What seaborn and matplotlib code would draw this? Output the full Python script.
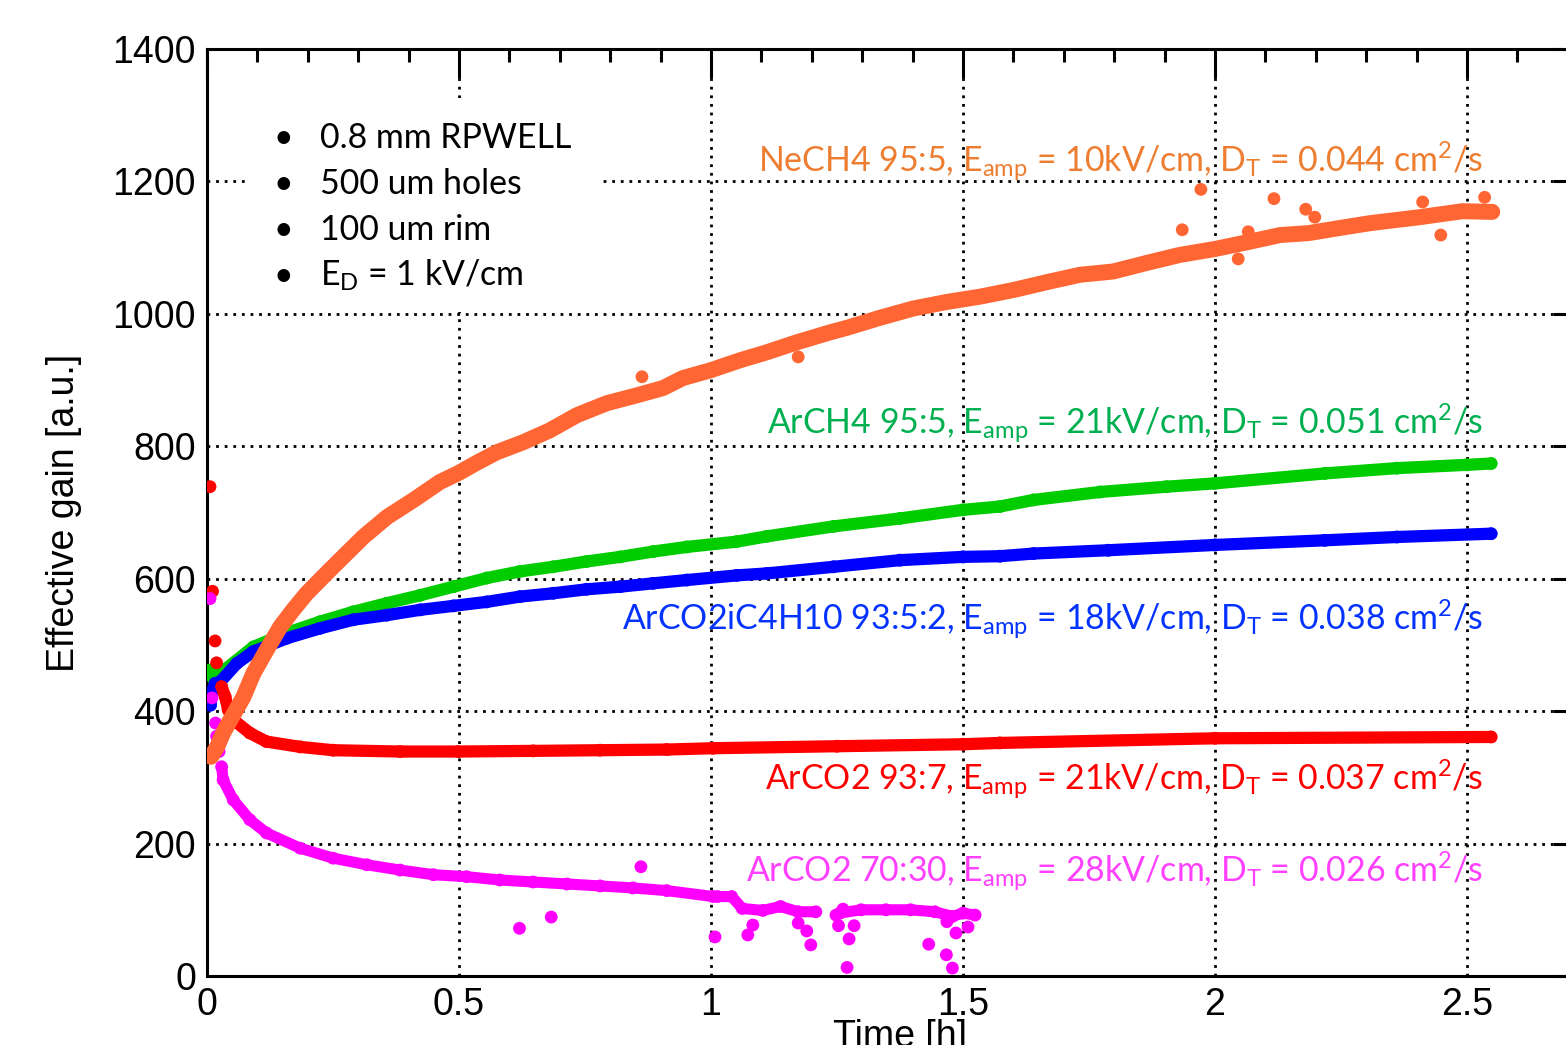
import matplotlib
matplotlib.use("Agg")
import matplotlib.pyplot as plt
import seaborn as sns
import pandas as pd
from matplotlib.ticker import MultipleLocator
from matplotlib.patches import Rectangle

# ---------------- data ----------------
# NeCH4 95:5 (orange)
ne_t = [0.008, 0.02, 0.032, 0.045, 0.06, 0.072, 0.092, 0.118, 0.145, 0.171, 0.198,
        0.237, 0.27, 0.31, 0.357, 0.41, 0.462, 0.5, 0.535, 0.575, 0.627, 0.68, 0.734,
        0.793, 0.853, 0.905, 0.944, 1.0, 1.058, 1.111, 1.17, 1.236, 1.27, 1.335, 1.401,
        1.468, 1.534, 1.6, 1.667, 1.732, 1.798, 1.865, 1.93, 2.0, 2.063, 2.129, 2.186,
        2.25, 2.308, 2.406, 2.491, 2.55]
ne_g = [331, 346, 367, 385, 405, 421, 457, 492, 527, 553, 578,
        608, 633, 663, 693, 719, 746, 760, 775, 791, 806, 824, 847,
        865, 877, 888, 903, 915, 930, 942, 957, 972, 979, 994, 1008,
        1018, 1026, 1036, 1048, 1059, 1064, 1077, 1089, 1098, 1108, 1119, 1122,
        1130, 1137, 1146, 1155, 1154]
ne_out_t = [0.863, 1.173, 1.972, 2.117, 1.935, 2.046, 2.066, 2.18, 2.198, 2.448, 2.412, 2.535]
ne_out_g = [905, 935, 1188, 1174, 1127, 1083, 1124, 1158, 1146, 1119, 1169, 1176]

# ArCH4 95:5 (green)
ar_t = [0.006, 0.012, 0.026, 0.092, 0.158, 0.224, 0.29, 0.357, 0.423, 0.489, 0.555,
        0.621, 0.687, 0.753, 0.82, 0.885, 0.952, 1.051, 1.111, 1.243, 1.375, 1.5,
        1.573, 1.64, 1.772, 1.904, 2.0, 2.218, 2.361, 2.5, 2.548]
ar_g = [462, 450, 457, 497, 518, 535, 550, 563, 575, 588, 601,
        611, 618, 626, 633, 641, 648, 656, 664, 679, 691, 704,
        709, 719, 731, 739, 744, 759, 767, 772, 774]

# ArCO2iC4H10 93:5:2 (blue)
ib_t = [0.007, 0.009, 0.016, 0.026, 0.059, 0.092, 0.158, 0.224, 0.29, 0.357, 0.423,
        0.489, 0.555, 0.621, 0.687, 0.753, 0.82, 0.885, 0.952, 1.051, 1.111, 1.243,
        1.375, 1.5, 1.573, 1.64, 1.788, 2.0, 2.218, 2.361, 2.548]
ib_g = [409, 427, 442, 444, 472, 490, 510, 525, 538, 545, 553,
        559, 565, 573, 578, 584, 588, 593, 598, 605, 608, 618,
        628, 633, 634, 638, 643, 651, 658, 663, 668]

# ArCO2 93:7 (red)
rd_early_t = [0.006, 0.011, 0.016, 0.019]
rd_early_g = [739, 581, 506, 473]
rd_t = [0.029, 0.036, 0.042, 0.052, 0.085, 0.118, 0.185, 0.25, 0.383, 0.498, 0.647,
        0.78, 0.912, 1.004, 1.25, 1.5, 1.573, 2.0, 2.548]
rd_g = [437, 422, 402, 387, 367, 354, 346, 341, 339, 339, 340,
        341, 342, 344, 347, 350, 352, 359, 361]

# ArCO2 70:30 (magenta)
mg_early_t = [0.006, 0.01, 0.017, 0.019, 0.024]
mg_early_g = [570, 420, 382, 362, 339]
mg_t = [0.029, 0.032, 0.052, 0.085, 0.118, 0.185, 0.25, 0.317, 0.383, 0.449, 0.515,
        0.581, 0.647, 0.714, 0.78, 0.845, 0.912, 1.004, 1.013, 1.041, 1.062, 1.103,
        1.138, 1.173, 1.208]
mg_g = [316, 296, 266, 236, 216, 193, 178, 168, 160, 153, 150,
        145, 142, 139, 136, 133, 129, 120, 120, 120, 102, 99,
        105, 97, 97]
mg2_t = [1.256, 1.298, 1.347, 1.396, 1.444, 1.479, 1.5, 1.524]
mg2_g = [95, 100, 100, 100, 97, 90, 95, 92]
mg_out_t = [0.62, 0.683, 0.861, 1.008, 1.073, 1.083, 1.173, 1.19, 1.198, 1.253, 1.248,
            1.262, 1.274, 1.27, 1.284, 1.432, 1.467, 1.479, 1.486, 1.468, 1.51]
mg_out_g = [72, 89, 165, 59, 62, 77, 80, 68, 47, 76, 92,
            101, 56, 13, 76, 48, 32, 12, 65, 82, 74]

x_ticks = [0, 0.5, 1, 1.5, 2, 2.5]
x_tick_labels = ["0", "0.5", "1", "1.5", "2", "2.5"]
y_ticks = [0, 200, 400, 600, 800, 1000, 1200, 1400]
y_tick_labels = ["0", "200", "400", "600", "800", "1000", "1200", "1400"]

notes = [
    r"NeCH4 95:5, E$_{\mathrm{amp}}$ = 10kV/cm, D$_{\mathrm{T}}$ = 0.044 cm$^{2}$/s",
    r"ArCH4 95:5, E$_{\mathrm{amp}}$ = 21kV/cm, D$_{\mathrm{T}}$ = 0.051 cm$^{2}$/s",
    r"ArCO2iC4H10 93:5:2, E$_{\mathrm{amp}}$ = 18kV/cm, D$_{\mathrm{T}}$ = 0.038 cm$^{2}$/s",
    r"ArCO2 93:7, E$_{\mathrm{amp}}$ = 21kV/cm, D$_{\mathrm{T}}$ = 0.037 cm$^{2}$/s",
    r"ArCO2 70:30, E$_{\mathrm{amp}}$ = 28kV/cm, D$_{\mathrm{T}}$ = 0.026 cm$^{2}$/s",
]
legend_lines = ["0.8 mm RPWELL", "500 um holes", "100 um rim",
                r"E$_{\mathrm{D}}$ = 1 kV/cm"]

# ---------------- style ----------------
sns.set_theme(style="white")
plt.rcParams['font.family'] = ['Liberation Sans', 'DejaVu Sans']
plt.rcParams['mathtext.fontset'] = 'custom'
plt.rcParams['mathtext.rm'] = 'Lato'
plt.rcParams['mathtext.it'] = 'Lato:italic'
plt.rcParams['mathtext.bf'] = 'Lato:bold'
plt.rcParams['mathtext.default'] = 'rm'

W, H = 1566, 1045
fig = plt.figure(figsize=(W / 100, H / 100), dpi=100)
AX_L, AX_R, AX_T, AX_B = 207, 1593, 49, 976
ax = fig.add_axes([AX_L / W, 1 - AX_B / H, (AX_R - AX_L) / W, (AX_B - AX_T) / H])

def fx(px):
    return (px - AX_L) / (AX_R - AX_L)

def fy(py):
    return (AX_B - py) / (AX_B - AX_T)

C_OR, C_GR, C_BL, C_RD, C_MG = "#ff6633", "#00cc00", "#0000ff", "#ff0000", "#ff00ff"
T_OR, T_GR, T_BL, T_RD, T_MG = "#ed7d31", "#00b050", "#0433ff", "#ff0000", "#ff40ff"

S = 85  # marker area (pt^2)

def band(t, g, col, lw, z):
    df = pd.DataFrame({"t": t, "g": g})
    sns.lineplot(data=df, x="t", y="g", ax=ax, color=col, lw=lw, sort=False,
                 estimator=None, solid_capstyle="round", solid_joinstyle="round", zorder=z)
    sns.scatterplot(data=df, x="t", y="g", ax=ax, color=col, s=S, edgecolor="none",
                    linewidth=0, zorder=z)

def dots(t, g, col, z):
    sns.scatterplot(x=t, y=g, ax=ax, color=col, s=S, edgecolor="none", linewidth=0, zorder=z)

band(ar_t, ar_g, C_GR, 8.8, 3)
band(ib_t, ib_g, C_BL, 8.8, 3.1)
dots(rd_early_t, rd_early_g, C_RD, 3.2)
band(rd_t, rd_g, C_RD, 8.8, 3.2)
dots(mg_early_t, mg_early_g, C_MG, 3.3)
band(mg_t, mg_g, C_MG, 8.0, 3.3)
band(mg2_t, mg2_g, C_MG, 8.0, 3.3)
dots(mg_out_t, mg_out_g, C_MG, 3.3)
band(ne_t, ne_g, C_OR, 11.5, 3.4)
dots(ne_out_t, ne_out_g, C_OR, 3.4)

ax.set_xlim(0, 2.75)
ax.set_ylim(0, 1400)
ax.set_xticks(x_ticks)
ax.set_xticklabels(x_tick_labels)
ax.set_yticks(y_ticks)
ax.set_yticklabels(y_tick_labels)
ax.xaxis.set_minor_locator(MultipleLocator(0.1))
ax.yaxis.set_minor_locator(MultipleLocator(50))

ax.tick_params(axis="both", which="both", direction="in", top=True, right=True,
               width=2.2, color="black", labelcolor="black", labelsize=27)
ax.tick_params(axis="x", which="major", length=21, pad=8)
ax.tick_params(axis="x", which="minor", length=9.5)
ax.tick_params(axis="y", which="major", length=29, pad=8)
ax.tick_params(axis="y", which="minor", length=15)
for sp in ax.spines.values():
    sp.set_visible(True)
    sp.set_color("black")
    sp.set_linewidth(2.2)

ax.grid(True, which="major", color="black", linestyle=(0, (1, 2.1)), linewidth=2.0)
ax.grid(False, which="minor")

ax.set_xlabel("Time [h]", fontsize=27, color="black")
ax.set_ylabel("Effective gain [a.u.]", fontsize=27, color="black")
ax.xaxis.set_label_coords(0.5, fy(1019), transform=ax.transAxes)
ax.xaxis.label.set_va("top")
ax.yaxis.set_label_coords(fx(82), 0.5, transform=ax.transAxes)

# white box behind the info list
ax.add_patch(Rectangle((fx(248), fy(312)), fx(600) - fx(248), fy(98) - fy(312),
                       transform=ax.transAxes, facecolor="white", edgecolor="none", zorder=1.8))

for i, line in enumerate(legend_lines):
    base = 148 + 46 * i
    ax.text(fx(283), fy(base), "\u2022", transform=ax.transAxes, ha="center",
            va="baseline", fontsize=24.4, family="Lato", color="black", zorder=5)
    ax.text(fx(320), fy(base), line, transform=ax.transAxes, ha="left",
            va="baseline", fontsize=24.4, family="Lato", color="black", zorder=5)

note_cols = [T_OR, T_GR, T_BL, T_RD, T_MG]
note_base = [172, 434, 630, 790, 882]
for txt, col, b in zip(notes, note_cols, note_base):
    ax.text(fx(1483), fy(b), txt, transform=ax.transAxes, ha="right", va="baseline",
            fontsize=24.4, family="Lato", color=col, zorder=5)

fig.savefig("out.png", dpi=100)
